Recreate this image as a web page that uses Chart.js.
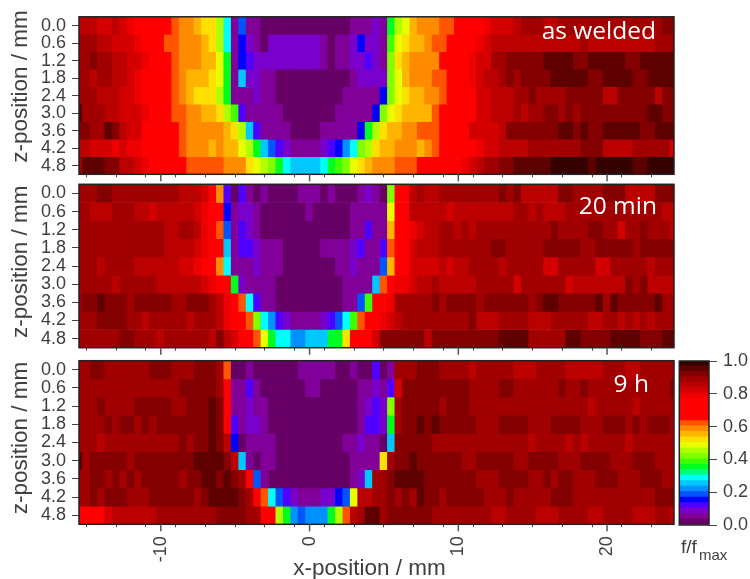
<!DOCTYPE html>
<html>
<head>
<meta charset="utf-8">
<title>f/fmax maps</title>
<script src="https://cdn.jsdelivr.net/npm/chart.js@4"></script>
<style>
html, body { margin: 0; padding: 0; background: #fff; }
canvas { position: absolute; left: 0; top: 0; }
</style>
</head>
<body>
<canvas id="panel1" width="750" height="579"></canvas>
<canvas id="panel2" width="750" height="579"></canvas>
<canvas id="panel3" width="750" height="579"></canvas>
<canvas id="barra" width="750" height="579"></canvas>
<script>
// x-position of each column, mm
const xPositions = [-15.5,-15,-14.5,-14,-13.5,-13,-12.5,-12,-11.5,-11,-10.5,-10,-9.5,-9,-8.5,-8,-7.5,-7,-6.5,-6,-5.5,-5,-4.5,-4,-3.5,-3,-2.5,-2,-1.5,-1,-0.5,0,0.5,1,1.5,2,2.5,3,3.5,4,4.5,5,5.5,6,6.5,7,7.5,8,8.5,9,9.5,10,10.5,11,11.5,12,12.5,13,13.5,14,14.5,15,15.5,16,16.5,17,17.5,18,18.5,19,19.5,20,20.5,21,21.5,22,22.5,23,23.5,24,24.5];
// z-position of each row, mm
const zPositions = [0, 0.6, 1.2, 1.8, 2.4, 3.0, 3.6, 4.2, 4.8];
const xTicks = [-14,-12,-10,-8,-6,-4,-2,0,2,4,6,8,10,12,14,16,18,20,22,24];
const xTickLabels = [-10, 0, 10, 20];
const barTicks = [0, 0.2, 0.4, 0.6, 0.8, 1.0];

// f/fmax in percent, one line per z row
const asWelded = [
[85,85,85,82,82,85,82,78,75,75,75,75,75,62,58,58,55,52,52,45,28,5,18,5,5,2,2,2,2,2,2,2,2,2,2,2,2,5,5,5,8,5,35,45,48,55,58,58,58,62,62,75,75,75,75,78,82,82,82,85,88,88,88,85,85,88,88,88,88,88,88,88,88,88,88,88,88,88,88,92,92],
[88,88,88,85,85,82,82,82,78,75,75,75,62,62,58,58,58,55,52,45,28,5,15,8,5,2,8,8,8,8,8,8,8,5,2,5,5,8,15,8,8,5,38,48,52,55,55,58,62,62,65,75,75,75,78,82,85,85,85,85,85,85,85,85,85,85,85,85,88,85,85,85,85,85,85,85,85,85,88,88,88],
[88,88,92,88,88,85,85,82,82,78,75,75,75,62,58,58,58,55,55,48,35,5,15,12,8,8,8,8,8,8,8,8,8,5,2,5,5,8,8,12,8,5,42,52,55,58,58,58,58,75,75,75,75,78,82,82,88,88,92,92,92,92,92,95,95,95,95,92,92,95,95,95,95,95,92,92,95,95,95,95,95],
[88,88,85,88,88,85,85,82,78,75,75,75,75,62,58,55,55,55,52,48,35,5,25,8,8,5,5,2,2,2,2,2,2,2,2,2,2,5,8,8,8,8,42,48,55,58,58,58,62,62,75,75,75,78,82,85,85,88,92,88,92,92,92,92,95,95,95,95,95,92,92,95,95,95,95,92,92,95,95,95,95],
[88,88,88,85,85,85,82,82,78,75,75,75,75,62,58,55,52,52,52,45,35,5,5,5,8,5,5,2,2,2,2,2,2,2,2,2,5,5,5,5,5,15,42,48,52,55,55,58,58,62,75,75,75,75,82,82,85,85,85,88,88,92,88,88,88,88,92,92,92,92,92,85,85,92,92,92,92,92,85,92,92],
[95,88,88,88,85,85,82,82,82,78,75,75,75,62,62,58,58,55,55,52,45,38,12,5,5,5,5,5,2,2,2,2,2,2,2,5,5,5,5,5,15,42,48,52,55,55,55,55,62,75,75,75,75,75,82,82,85,85,85,88,85,88,88,92,92,88,92,88,92,92,92,92,92,92,92,92,92,95,95,92,92],
[92,92,88,88,95,92,85,82,82,75,75,75,75,75,62,58,58,58,58,58,55,52,45,25,12,5,5,5,5,2,2,2,2,5,5,5,5,5,15,35,45,52,55,55,58,58,62,62,62,75,75,75,75,82,82,82,82,85,92,92,92,92,92,92,92,95,95,92,95,92,92,95,95,95,95,95,92,92,95,95,95],
[85,85,82,82,82,78,82,78,78,75,75,75,75,75,62,58,58,58,55,58,55,55,48,45,35,25,18,12,8,5,5,5,5,8,12,15,22,28,42,45,52,55,55,58,58,58,55,58,62,75,75,75,75,75,78,82,82,85,85,85,85,88,88,88,88,88,88,88,92,92,92,85,85,85,85,88,88,88,88,88,82],
[88,95,95,95,92,92,85,85,82,78,75,75,75,75,75,62,62,62,62,62,58,58,58,52,48,45,42,35,28,25,25,25,25,28,35,38,42,48,52,55,58,58,58,62,62,62,75,75,75,75,75,75,78,82,85,88,88,92,92,95,95,95,95,95,98,98,98,98,98,95,98,98,98,98,98,95,95,98,98,98,98]
];
const twentyMin = [
[88,88,88,92,92,88,88,88,88,88,88,88,88,88,85,85,85,82,75,58,12,2,12,5,2,5,2,2,2,2,5,5,5,2,5,2,2,2,5,8,5,2,42,75,75,85,88,85,85,88,88,88,88,88,88,88,88,92,88,92,85,85,85,85,85,92,92,88,88,88,88,92,92,92,85,85,85,85,92,92,92],
[88,88,85,85,85,88,88,88,85,85,82,85,85,85,85,85,82,78,75,75,15,5,8,8,5,2,2,2,2,2,2,5,2,2,2,2,2,5,5,5,5,5,48,75,75,85,85,85,85,85,82,85,85,85,85,85,85,85,85,88,88,85,88,85,85,85,88,88,88,88,88,88,88,88,88,88,88,88,88,85,85],
[88,88,88,88,88,88,88,88,88,88,88,88,85,85,88,88,85,78,75,62,18,5,12,8,5,2,2,2,2,2,2,2,2,2,2,2,2,5,5,12,5,5,55,75,75,78,82,85,85,88,88,85,88,85,88,88,88,88,88,88,88,88,88,88,92,88,88,88,88,92,92,88,88,82,88,88,92,88,88,88,85],
[88,88,88,88,88,88,88,88,88,88,88,88,85,85,85,85,82,78,75,75,25,5,12,12,8,5,5,5,2,2,2,2,2,5,5,5,5,8,12,5,5,12,62,75,75,82,85,85,85,88,88,88,88,88,88,88,92,92,88,88,88,88,88,92,92,92,92,92,88,88,92,92,92,92,92,88,92,92,92,92,92],
[88,88,88,85,88,88,88,88,85,85,85,85,85,85,82,82,78,75,75,58,28,5,5,5,8,5,5,5,2,2,2,2,2,2,2,5,5,8,5,5,5,18,55,75,75,82,82,82,82,85,82,85,85,88,88,88,88,85,88,88,88,88,88,82,82,88,88,88,88,88,82,82,88,88,88,88,88,85,88,88,88],
[88,88,88,88,88,85,88,88,88,88,88,85,85,85,85,85,85,82,78,75,75,35,8,5,5,5,5,2,2,2,2,2,2,2,2,2,5,5,5,5,25,62,75,78,78,82,85,85,88,85,85,85,85,85,88,88,88,88,88,82,88,88,88,88,88,88,82,85,85,85,85,85,85,85,92,88,92,85,85,85,85],
[88,92,92,95,92,92,92,88,92,92,92,92,92,88,88,92,92,92,88,85,78,75,62,28,12,5,5,2,2,2,2,2,2,2,2,2,5,5,18,38,75,75,78,88,88,88,88,88,92,88,92,92,92,92,88,92,92,92,92,92,92,88,92,95,95,92,92,92,92,92,95,88,95,92,92,92,92,92,95,88,88],
[88,88,88,92,92,92,92,88,88,85,88,88,88,88,88,85,88,88,88,85,78,75,75,62,42,28,22,12,8,5,5,5,5,8,12,18,28,38,62,75,75,78,82,85,88,88,88,88,88,88,88,88,88,92,85,85,85,88,88,88,88,85,85,85,88,88,88,88,88,85,85,88,88,85,88,85,88,85,88,88,88],
[88,88,88,88,88,88,92,92,88,88,88,85,88,88,88,88,88,88,85,92,85,82,75,75,62,48,35,28,28,22,22,25,25,25,35,35,52,75,75,75,82,92,92,92,92,92,92,85,92,92,92,92,92,92,92,92,92,95,95,95,95,88,88,88,88,88,95,95,92,92,92,92,95,95,95,95,92,92,92,95,95]
];
const nineHours = [
[88,88,92,92,88,88,88,88,88,88,92,92,92,88,88,88,92,92,92,88,62,2,2,5,2,2,2,2,2,2,5,5,5,5,5,2,2,5,2,2,12,2,5,88,88,88,92,92,92,88,88,88,88,85,88,88,88,88,88,85,85,85,88,88,88,88,85,85,85,85,85,88,88,88,85,85,88,88,88,88,88],
[88,88,88,88,88,88,88,88,88,88,88,88,88,88,92,92,92,92,92,88,75,5,5,12,5,2,2,2,2,2,2,5,5,2,2,2,2,2,5,5,8,5,12,82,92,92,92,92,92,92,92,92,92,88,88,88,88,92,92,88,88,88,88,88,88,92,88,88,92,88,88,88,88,88,88,88,88,88,88,88,92],
[88,88,88,92,88,88,88,88,92,92,92,92,92,88,88,92,92,92,95,92,75,5,5,8,5,5,2,2,2,2,2,2,2,2,2,2,2,2,5,8,12,8,42,88,92,92,92,92,92,88,92,92,92,88,88,88,88,88,88,88,88,88,88,88,88,88,88,88,88,85,88,88,88,88,88,85,88,88,88,88,88],
[88,88,88,88,92,88,92,92,88,92,88,92,92,92,92,92,92,92,95,92,75,12,5,8,8,5,2,2,2,2,2,2,2,2,2,2,2,2,5,12,12,8,35,88,92,92,95,92,95,92,92,92,92,92,88,88,88,92,92,92,92,88,88,88,92,92,92,92,88,88,88,92,92,92,88,92,88,92,92,92,88],
[88,88,88,85,88,88,88,88,88,88,88,88,88,88,92,88,92,92,95,92,85,15,2,5,5,5,5,2,2,2,2,2,2,2,2,2,5,5,8,5,5,2,25,92,92,92,92,92,88,88,88,88,88,88,88,88,88,88,88,88,88,85,88,88,88,88,85,88,85,88,88,88,88,88,85,88,88,88,88,88,88],
[95,88,92,92,92,92,92,88,92,92,92,92,92,92,92,92,95,95,95,95,92,85,25,5,2,5,5,2,2,2,2,2,2,2,2,2,2,5,5,5,5,52,88,92,92,95,92,92,92,92,92,92,88,88,92,92,92,92,92,88,88,92,92,92,92,88,88,88,92,92,92,92,88,88,88,92,92,92,88,88,88],
[88,88,92,92,88,92,88,92,88,92,92,92,92,92,88,92,92,95,95,92,95,92,88,75,18,5,2,2,2,2,2,2,2,2,2,2,2,5,8,25,88,88,92,95,95,95,95,92,92,92,92,92,92,92,88,88,88,92,92,92,92,88,88,92,88,92,92,88,88,88,92,92,92,88,88,88,92,92,92,88,88],
[88,88,92,88,92,92,92,88,88,88,92,92,92,92,92,92,88,92,95,95,95,95,92,88,75,62,28,18,12,8,5,5,5,8,8,15,18,48,85,85,88,88,92,88,92,88,95,92,92,88,92,92,92,92,92,88,88,88,92,88,88,88,88,88,92,92,92,88,88,88,88,88,88,88,88,88,88,88,92,92,92],
[75,75,75,75,82,85,85,85,85,85,85,88,88,88,88,88,88,88,88,92,92,92,92,88,88,75,75,45,35,22,18,22,22,22,35,45,62,85,88,95,95,88,92,92,92,92,92,92,88,88,88,88,88,88,88,88,85,85,88,88,88,88,85,85,85,88,88,88,88,85,85,88,88,88,88,85,85,85,88,88,85]
];

// colour bar levels from 0.0 up to 1.0
const colorLevels = ['#660066','#800099','#7a00cc','#5000ff','#0000ff','#0055ff','#0090ff','#00c8ff','#00ffff','#00ff80','#00ff20','#40ff00','#80ff00','#b0ff00','#e8ff00','#ffe000','#ffb400','#ff8c00','#ff5500','#ff0000','#ff0000','#ff0000','#ff0000','#ee0000','#d40000','#bb0000','#a20000','#840000','#5e0000','#360000'];

const colorTexto = '#404040';
const fuente = '"Liberation Sans", Arial, sans-serif';

function colorDe(pct) {
    return colorLevels[Math.min(colorLevels.length - 1, Math.floor(pct / 100 * colorLevels.length))];
}

// frame around the plot plus the longer x ticks
function marcoPlugin(conMarcas) {
    return {
        id: 'marco',
        afterDraw(chart) {
            const ctx = chart.ctx;
            const a = chart.chartArea;
            ctx.save();
            ctx.strokeStyle = '#222';
            ctx.lineWidth = 1.5;
            ctx.strokeRect(a.left, a.top, a.right - a.left, a.bottom - a.top);
            if (conMarcas) {
                ctx.strokeStyle = '#555';
                ctx.lineWidth = 1.5;
                xTickLabels.forEach(v => {
                    const px = chart.scales.x.getPixelForValue(v);
                    ctx.beginPath();
                    ctx.moveTo(px, a.bottom);
                    ctx.lineTo(px, a.bottom + 7);
                    ctx.stroke();
                });
            }
            ctx.restore();
        }
    };
}

function textoPlugin(textos) {
    return {
        id: 'texto',
        afterDraw(chart) {
            const ctx = chart.ctx;
            textos.forEach(t => {
                ctx.save();
                ctx.font = t.font;
                ctx.fillStyle = t.color;
                ctx.textAlign = t.align || 'left';
                ctx.textBaseline = 'alphabetic';
                ctx.translate(t.x, t.y);
                if (t.vertical) ctx.rotate(-Math.PI / 2);
                ctx.fillText(t.text, 0, 0);
                ctx.restore();
            });
        }
    };
}

function crearPanel(id, filas, arriba, abajo, textos, conEtiquetas) {
    const altoEje = conEtiquetas ? 40 : 10;
    const datasets = filas.map((fila, i) => ({
        grouped: false,
        barPercentage: 1.15,
        categoryPercentage: 1,
        borderWidth: 0,
        backgroundColor: fila.map(colorDe),
        data: fila.map((v, j) => ({ x: xPositions[j], y: [zPositions[i] - 0.31, zPositions[i] + 0.31] }))
    }));

    return new Chart(document.getElementById(id), {
        type: 'bar',
        data: { datasets },
        options: {
            responsive: false,
            animation: false,
            events: [],
            layout: { padding: { top: arriba, bottom: 579 - abajo - altoEje, left: 0, right: 76 } },
            plugins: { legend: { display: false }, tooltip: { enabled: false } },
            scales: {
                x: {
                    type: 'linear',
                    offset: false,
                    min: -15.5,
                    max: 24.5,
                    afterBuildTicks: s => { s.ticks = xTicks.map(v => ({ value: v })); },
                    afterFit: s => { s.height = altoEje; },
                    border: { display: false },
                    grid: { drawOnChartArea: false, tickLength: 3, tickColor: '#444', tickWidth: 1 },
                    ticks: {
                        display: conEtiquetas,
                        autoSkip: false,
                        minRotation: 90,
                        maxRotation: 90,
                        padding: 9,
                        color: colorTexto,
                        font: { family: fuente, size: 18 },
                        callback: v => xTickLabels.includes(v) ? String(v) : ''
                    }
                },
                y: {
                    type: 'linear',
                    reverse: true,
                    min: -0.3,
                    max: 5.1,
                    afterBuildTicks: s => { s.ticks = zPositions.map(v => ({ value: v })); },
                    afterFit: s => { s.width = 79; },
                    border: { display: false },
                    grid: { drawOnChartArea: false, tickLength: 7, tickColor: '#444', tickWidth: 1 },
                    ticks: {
                        autoSkip: false,
                        padding: 6,
                        color: colorTexto,
                        font: { family: fuente, size: 18 },
                        callback: v => v.toFixed(1)
                    }
                }
            }
        },
        plugins: [marcoPlugin(true), textoPlugin(textos)]
    });
}

const fuenteRotulo = '24.5px "Open Sans", sans-serif';
const fuenteTitulo = '22.5px ' + fuente;

crearPanel('panel1', asWelded, 11, 174.3, [
    { text: 'as welded', x: 656, y: 39, align: 'right', font: fuenteRotulo, color: '#fff' },
    { text: 'z-position / mm', x: 27, y: 86.5, align: 'center', vertical: true, font: fuenteTitulo, color: colorTexto }
], false);
crearPanel('panel2', twentyMin, 184.3, 347.7, [
    { text: '20 min', x: 657, y: 214, align: 'right', font: fuenteRotulo, color: '#fff' },
    { text: 'z-position / mm', x: 27, y: 261.7, align: 'center', vertical: true, font: fuenteTitulo, color: colorTexto }
], false);
crearPanel('panel3', nineHours, 360.7, 524.3, [
    { text: '9 h', x: 649, y: 392, align: 'right', font: fuenteRotulo, color: '#fff' },
    { text: 'z-position / mm', x: 27, y: 438, align: 'center', vertical: true, font: fuenteTitulo, color: colorTexto },
    { text: 'x-position / mm', x: 369.5, y: 575, align: 'center', font: fuenteTitulo, color: colorTexto }
], true);

// colour bar
new Chart(document.getElementById('barra'), {
    type: 'bar',
    data: {
        labels: ['f'],
        datasets: colorLevels.map((c, i) => ({
            grouped: false,
            barPercentage: 1,
            categoryPercentage: 1,
            borderWidth: 0,
            backgroundColor: c,
            data: [[i / colorLevels.length, (i + 1) / colorLevels.length + 0.004]]
        }))
    },
    options: {
        responsive: false,
        animation: false,
        events: [],
        layout: { padding: { top: 361, bottom: 54, left: 679.3, right: 0 } },
        plugins: { legend: { display: false }, tooltip: { enabled: false } },
        scales: {
            x: { display: false },
            y: {
                position: 'right',
                min: 0,
                max: 1,
                afterBuildTicks: s => { s.ticks = barTicks.map(v => ({ value: v })); },
                afterFit: s => { s.width = 41; },
                border: { display: false },
                grid: { drawOnChartArea: false, tickLength: 8, tickColor: '#444', tickWidth: 1 },
                ticks: {
                    padding: 6,
                    color: colorTexto,
                    font: { family: fuente, size: 18 },
                    callback: v => v.toFixed(1)
                }
            }
        }
    },
    plugins: [marcoPlugin(false), textoPlugin([
        { text: 'f/f', x: 681, y: 553, font: '19px ' + fuente, color: colorTexto },
        { text: 'max', x: 699, y: 560, font: '15px ' + fuente, color: colorTexto }
    ])]
});
</script>
</body>
</html>
